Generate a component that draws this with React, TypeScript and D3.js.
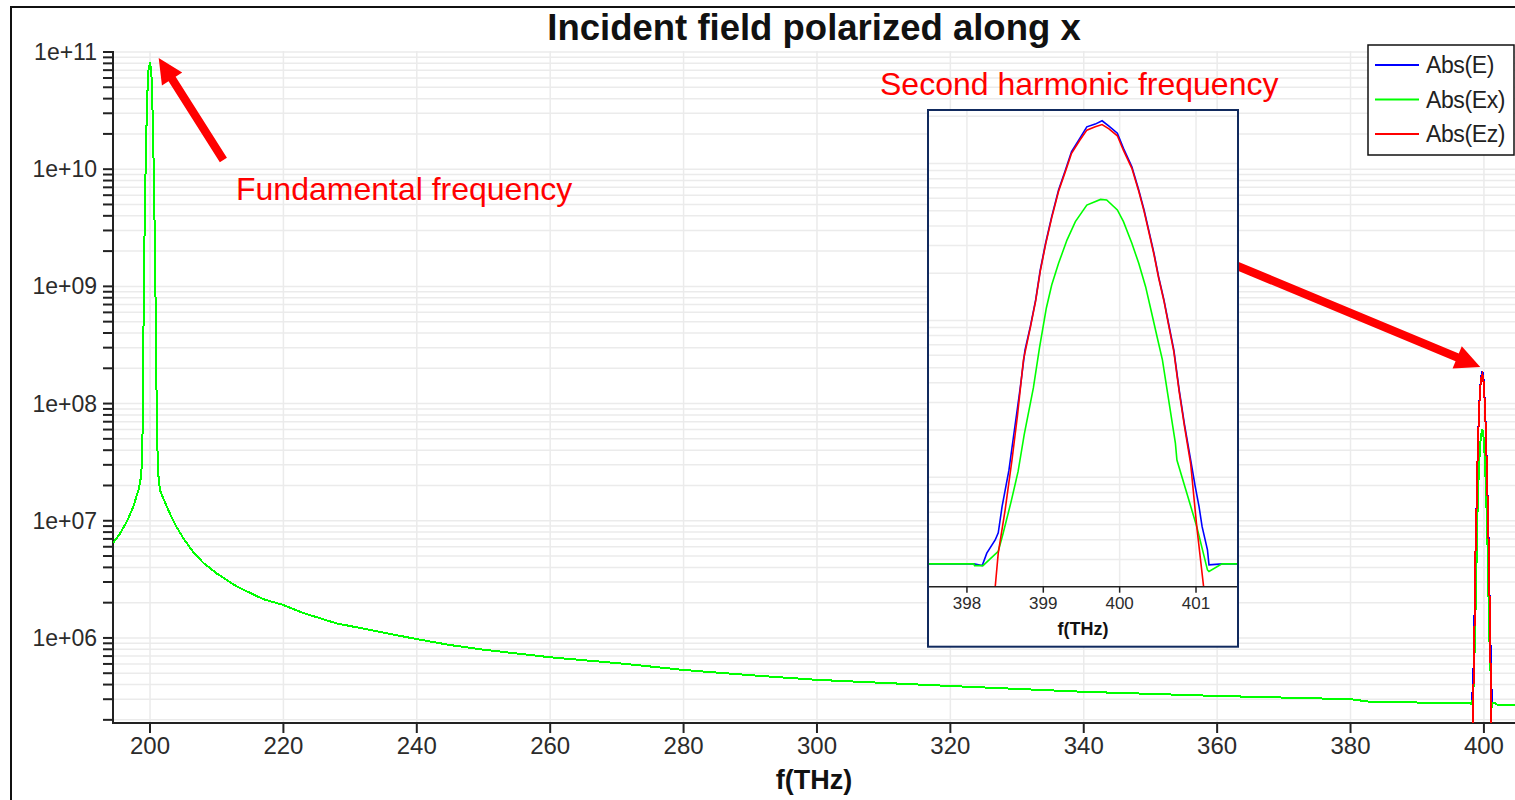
import React, { useEffect, useRef } from 'react';
import * as d3 from 'd3';

// Abs(Ex) away from the second harmonic window (f in THz, |E| in V/m)
const baseFreq = [194.45, 195.5, 196.5, 197.5, 198.3, 198.7, 198.9, 199.1, 199.4, 199.7, 200.0, 200.2, 200.45, 200.75, 201.05, 201.25, 201.5, 202.0, 202.75, 203.75, 205.0, 206.5, 208.0, 210.0, 213.0, 217.0, 220.0, 223.0, 228.0, 233.0, 240.0, 245.0, 250.0, 260.0, 271.0, 280.0, 291.5, 300.0, 320.0, 340.0, 360.0, 380.0, 383.0, 394.0];
const baseAbs = [6.46e6, 7.76e6, 9.77e6, 1.32e7, 1.86e7, 2.45e7, 6.17e7, 1.45e9, 1.66e10, 6.61e10, 8.22e10, 6.76e10, 2.29e10, 2.0e9, 5.13e7, 2.45e7, 1.82e7, 1.55e7, 1.23e7, 9.33e6, 7.08e6, 5.37e6, 4.37e6, 3.55e6, 2.75e6, 2.14e6, 1.91e6, 1.63e6, 1.33e6, 1.17e6, 9.77e5, 8.7e5, 7.94e5, 6.84e5, 6.03e5, 5.33e5, 4.74e5, 4.39e5, 3.89e5, 3.47e5, 3.20e5, 3.00e5, 2.85e5, 2.79e5];
const tailFreq = [402.0, 404.66];
const tailAbs = [2.7e5, 2.65e5];

// second harmonic window
const shE: [number, number][] = [
  [397.5, 2.81e5], [398.09, 2.81e5], [398.2, 2.74e5], [398.26, 3.29e5], [398.37, 3.99e5], [398.41, 4.43e5],
  [398.46, 6.5e5], [398.55, 1.11e6], [398.61, 1.82e6], [398.7, 3.78e6], [398.76, 6.47e6], [398.83, 9.12e6],
  [398.9, 1.35e7], [398.96, 2.09e7], [399.03, 3.1e7], [399.11, 4.58e7], [399.2, 6.78e7], [399.29, 9.08e7],
  [399.37, 1.19e8], [399.48, 1.45e8], [399.57, 1.71e8], [399.68, 1.78e8], [399.77, 1.87e8], [399.86, 1.73e8],
  [399.97, 1.56e8], [400.05, 1.25e8], [400.16, 9.53e7], [400.25, 6.78e7], [400.32, 5.05e7], [400.38, 3.77e7],
  [400.45, 2.67e7], [400.51, 1.9e7], [400.58, 1.35e7], [400.64, 9.59e6], [400.71, 6.47e6], [400.78, 3.6e6],
  [400.85, 2.16e6], [400.93, 1.29e6], [400.99, 8.73e5], [401.04, 6.5e5], [401.08, 4.85e5], [401.15, 3.45e5],
  [401.17, 2.77e5], [401.35, 2.81e5], [401.55, 2.81e5]
];
const shEx: [number, number][] = [
  [397.5, 2.81e5], [398.09, 2.81e5], [398.1, 2.74e5], [398.21, 2.74e5], [398.41, 3.38e5], [398.47, 4.32e5],
  [398.58, 7.05e5], [398.67, 1.09e6], [398.75, 1.87e6], [398.87, 3.71e6], [398.95, 6.67e6], [399.04, 1.2e7],
  [399.11, 1.68e7], [399.2, 2.31e7], [399.31, 3.25e7], [399.42, 4.26e7], [399.57, 5.43e7], [399.75, 5.9e7],
  [399.83, 5.85e7], [399.97, 5.05e7], [400.05, 4.26e7], [400.16, 3.1e7], [400.25, 2.31e7], [400.34, 1.64e7],
  [400.42, 1.11e7], [400.49, 7.87e6], [400.56, 5.6e6], [400.73, 1.65e6], [400.75, 1.29e6], [400.88, 7.92e5],
  [401.01, 4.85e5], [401.15, 2.57e5], [401.17, 2.51e5], [401.34, 2.81e5], [401.55, 2.81e5]
];
const shEz: [number, number][] = [
  [398.34, 5.0e4], [398.37, 2.0e5], [398.41, 3.29e5], [398.5, 6.19e5], [398.59, 1.29e6], [398.66, 2.44e6],
  [398.74, 5.6e6], [398.83, 9.0e6], [398.9, 1.33e7], [398.96, 2.05e7], [399.03, 3.05e7], [399.11, 4.5e7],
  [399.2, 6.65e7], [399.29, 8.9e7], [399.37, 1.16e8], [399.48, 1.41e8], [399.57, 1.63e8], [399.68, 1.71e8],
  [399.77, 1.77e8], [399.86, 1.66e8], [399.97, 1.5e8], [400.05, 1.21e8], [400.16, 9.3e7], [400.25, 6.65e7],
  [400.32, 4.95e7], [400.38, 3.7e7], [400.45, 2.62e7], [400.51, 1.87e7], [400.58, 1.33e7], [400.64, 9.4e6],
  [400.71, 6.3e6], [400.78, 3.5e6], [400.85, 2.1e6], [400.93, 1.22e6], [401.01, 4.85e5], [401.1, 2.0e5],
  [401.14, 5.0e4]
];

const seriesNames = ['Abs(E)', 'Abs(Ex)', 'Abs(Ez)'];
const seriesColors = ['#0000ff', '#00ff00', '#ff0000'];

const xTicks = [200, 220, 240, 260, 280, 300, 320, 340, 360, 380, 400];
const yTickValues = [1e6, 1e7, 1e8, 1e9, 1e10, 1e11];
const yTickLabels = ['1e+06', '1e+07', '1e+08', '1e+09', '1e+10', '1e+11'];
const insetTicks = [398, 399, 400, 401];

const FONT = '"Liberation Sans", Arial, Helvetica, sans-serif';

export default function App() {
  const ref = useRef<SVGSVGElement>(null);

  useEffect(() => {
    const svg = d3.select(ref.current);
    svg.selectAll('*').remove();

    const base = d3.zip(baseFreq, baseAbs) as [number, number][];
    const tail = d3.zip(tailFreq, tailAbs) as [number, number][];
    const data = [
      [...base, ...shE, ...tail],
      [...base, ...shEx, ...tail],
      shEz
    ];

    // main plot frame
    const left = 113, right = 1515, top = 52, bottom = 723;
    const x = d3.scaleLinear().domain([194.45, 404.66]).range([left, right]);
    const y = d3.scaleLog().domain([1.88e5, 1e11]).range([bottom, top]);

    svg.append('rect').attr('width', 1515).attr('height', 800).attr('fill', '#fff');

    // outer border of the view
    svg.append('path').attr('d', 'M11,800 L11,7 L1515,7')
      .attr('fill', 'none').attr('stroke', '#111').attr('stroke-width', 2);

    const defs = svg.append('defs');
    defs.append('clipPath').attr('id', 'mainClip')
      .append('rect').attr('x', left).attr('y', top - 1).attr('width', right - left).attr('height', bottom - top + 1);

    // grid
    const grid = svg.append('g');
    const yMinor = y.ticks().filter(v => v >= 1.88e5 && v <= 1e11);
    grid.selectAll('.hg').data(yMinor).enter().append('line')
      .attr('x1', left).attr('x2', right)
      .attr('y1', d => y(d)).attr('y2', d => y(d))
      .attr('stroke', '#ebebeb').attr('stroke-width', 1.5);
    grid.selectAll('.vg').data(xTicks).enter().append('line')
      .attr('x1', d => x(d)).attr('x2', d => x(d))
      .attr('y1', top - 1).attr('y2', bottom)
      .attr('stroke', '#ebebeb').attr('stroke-width', 1.5);

    // axes
    const ax = svg.append('g').attr('stroke', '#222').attr('stroke-width', 2);
    ax.append('line').attr('x1', left).attr('x2', left).attr('y1', top - 1).attr('y2', bottom + 1);
    ax.append('line').attr('x1', left - 1).attr('x2', right).attr('y1', bottom).attr('y2', bottom);
    ax.selectAll('.yt').data(yMinor).enter().append('line')
      .attr('x1', left - 10).attr('x2', left)
      .attr('y1', d => y(d)).attr('y2', d => y(d));
    ax.selectAll('.xt').data(xTicks).enter().append('line')
      .attr('x1', d => x(d)).attr('x2', d => x(d))
      .attr('y1', bottom).attr('y2', bottom + 10);

    svg.selectAll('.yl').data(yTickValues).enter().append('text')
      .attr('x', left - 16).attr('y', d => y(d) + 8)
      .attr('text-anchor', 'end')
      .attr('font-family', FONT).attr('font-size', 23).attr('fill', '#2b2b2b')
      .text((d, i) => yTickLabels[i]);
    svg.selectAll('.xl').data(xTicks).enter().append('text')
      .attr('x', d => x(d)).attr('y', bottom + 31)
      .attr('text-anchor', 'middle')
      .attr('font-family', FONT).attr('font-size', 24).attr('fill', '#2b2b2b')
      .text(d => d);

    svg.append('text').attr('x', (left + right) / 2).attr('y', 789)
      .attr('text-anchor', 'middle').attr('font-family', FONT)
      .attr('font-size', 27).attr('font-weight', 'bold').attr('fill', '#111')
      .text('f(THz)');

    svg.append('text').attr('x', (left + right) / 2).attr('y', 40)
      .attr('text-anchor', 'middle').attr('font-family', FONT)
      .attr('font-size', 36.5).attr('font-weight', 'bold').attr('fill', '#111')
      .text('Incident field polarized along x');

    // curves
    const line = d3.line<[number, number]>().x(d => x(d[0])).y(d => y(d[1]));
    const plot = svg.append('g').attr('clip-path', 'url(#mainClip)');
    data.forEach((s, i) => {
      plot.append('path').attr('d', line(s))
        .attr('fill', 'none').attr('stroke', seriesColors[i])
        .attr('stroke-width', 2).attr('shape-rendering', 'crispEdges');
    });

    // annotations
    const arrow = (tail: number[], tip: number[]) => {
      const dx = tip[0] - tail[0], dy = tip[1] - tail[1];
      const len = Math.sqrt(dx * dx + dy * dy);
      const ux = dx / len, uy = dy / len, nx = -uy, ny = ux;
      const sw = 4.2, hw = 12, hl = 25;
      const bx = tip[0] - ux * hl, by = tip[1] - uy * hl;
      const pts = [
        [tail[0] + nx * sw, tail[1] + ny * sw],
        [bx + nx * sw, by + ny * sw],
        [bx + nx * hw, by + ny * hw],
        tip,
        [bx - nx * hw, by - ny * hw],
        [bx - nx * sw, by - ny * sw],
        [tail[0] - nx * sw, tail[1] - ny * sw]
      ];
      svg.append('polygon').attr('points', pts.map(p => p.join(',')).join(' ')).attr('fill', '#ff0000');
    };
    arrow([x(211), y(1.2e10)], [x(201.3), y(8.9e10)]);
    arrow([x(362), y(1.58e9)], [x(399.45), y(2.05e8)]);

    svg.append('text').attr('x', 236).attr('y', 200)
      .attr('font-family', FONT).attr('font-size', 32).attr('fill', '#ff0000')
      .text('Fundamental frequency');
    svg.append('text').attr('x', 880).attr('y', 95)
      .attr('font-family', FONT).attr('font-size', 32).attr('fill', '#ff0000')
      .text('Second harmonic frequency');

    // inset zoom on the second harmonic
    const iL = 928, iR = 1238, iT = 110, iAxis = 586.7, iB = 646.7;
    const ix = d3.scaleLinear().domain([397.49, 401.55]).range([iL, iR]);
    const iy = d3.scaleLog().domain([2.01e5, 2.19e8]).range([iAxis, iT]);
    defs.append('clipPath').attr('id', 'insetClip')
      .append('rect').attr('x', iL).attr('y', iT).attr('width', iR - iL).attr('height', iAxis - iT);

    const inset = svg.append('g');
    inset.append('rect').attr('x', iL).attr('y', iT).attr('width', iR - iL).attr('height', iB - iT)
      .attr('fill', '#fff');
    const iMinor = iy.ticks().filter(v => v >= 2.01e5 && v <= 2.19e8);
    inset.selectAll('.ihg').data(iMinor).enter().append('line')
      .attr('x1', iL).attr('x2', iR)
      .attr('y1', d => iy(d)).attr('y2', d => iy(d))
      .attr('stroke', '#ececec').attr('stroke-width', 1.5);
    inset.selectAll('.ivg').data(insetTicks).enter().append('line')
      .attr('x1', d => ix(d)).attr('x2', d => ix(d))
      .attr('y1', iT).attr('y2', iAxis)
      .attr('stroke', '#ececec').attr('stroke-width', 1.5);

    const iline = d3.line<[number, number]>().x(d => ix(d[0])).y(d => iy(d[1]));
    const iplot = inset.append('g').attr('clip-path', 'url(#insetClip)');
    data.forEach((s, i) => {
      iplot.append('path').attr('d', iline(s))
        .attr('fill', 'none').attr('stroke', seriesColors[i]).attr('stroke-width', 1.6);
    });

    inset.append('line').attr('x1', iL).attr('x2', iR).attr('y1', iAxis).attr('y2', iAxis)
      .attr('stroke', '#222').attr('stroke-width', 1.5);
    inset.selectAll('.ixt').data(insetTicks).enter().append('line')
      .attr('x1', d => ix(d)).attr('x2', d => ix(d))
      .attr('y1', iAxis).attr('y2', iAxis + 6)
      .attr('stroke', '#222').attr('stroke-width', 1.5);
    inset.selectAll('.ixl').data(insetTicks).enter().append('text')
      .attr('x', d => ix(d)).attr('y', 609)
      .attr('text-anchor', 'middle').attr('font-family', FONT)
      .attr('font-size', 17).attr('fill', '#2b2b2b')
      .text(d => d);
    inset.append('text').attr('x', (iL + iR) / 2).attr('y', 635)
      .attr('text-anchor', 'middle').attr('font-family', FONT)
      .attr('font-size', 18).attr('font-weight', 'bold').attr('fill', '#111')
      .text('f(THz)');
    inset.append('rect').attr('x', iL).attr('y', iT).attr('width', iR - iL).attr('height', iB - iT)
      .attr('fill', 'none').attr('stroke', '#112a5e').attr('stroke-width', 2);

    // legend
    const lg = svg.append('g');
    lg.append('rect').attr('x', 1368).attr('y', 45).attr('width', 146).attr('height', 110)
      .attr('fill', '#fff').attr('stroke', '#111').attr('stroke-width', 1.5);
    seriesNames.forEach((name, i) => {
      const ly = 65 + i * 34.5;
      lg.append('line').attr('x1', 1375).attr('x2', 1419).attr('y1', ly).attr('y2', ly)
        .attr('stroke', seriesColors[i]).attr('stroke-width', 2);
      lg.append('text').attr('x', 1426).attr('y', ly + 8)
        .attr('font-family', FONT).attr('font-size', 23).attr('letter-spacing', -0.4)
        .attr('fill', '#222').text(name);
    });
  }, []);

  return (
    <svg ref={ref} width={1515} height={800}
      style={{ position: 'absolute', left: 0, top: 0, display: 'block' }} />
  );
}
